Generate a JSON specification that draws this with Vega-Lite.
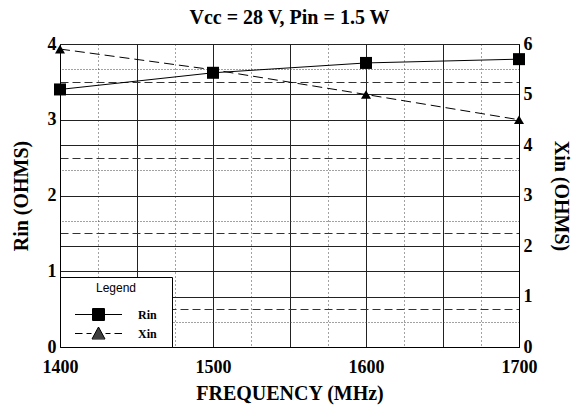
{
  "$schema": "https://vega.github.io/schema/vega-lite/v6.json",
  "width": 459,
  "height": 303,
  "autosize": {"type": "none"},
  "padding": {"left": 60, "top": 44, "right": 54, "bottom": 63},
  "background": "white",
  "title": {"text": "Vcc = 28 V, Pin = 1.5 W", "font": "Liberation Serif", "fontSize": 20, "fontWeight": "bold", "color": "black", "anchor": "middle", "offset": 7},
  "data": {"values": [
    {"freq": 1400, "series": "Rin", "ohms": 3.40},
    {"freq": 1500, "series": "Rin", "ohms": 3.62},
    {"freq": 1600, "series": "Rin", "ohms": 3.75},
    {"freq": 1700, "series": "Rin", "ohms": 3.80},
    {"freq": 1400, "series": "Xin", "ohms": 5.90},
    {"freq": 1500, "series": "Xin", "ohms": 5.49},
    {"freq": 1600, "series": "Xin", "ohms": 5.00},
    {"freq": 1700, "series": "Xin", "ohms": 4.50}
  ]},
  "config": {
    "view": {"stroke": null},
    "axis": {
      "labelFont": "Liberation Serif", "labelFontSize": 18, "labelFontWeight": "bold", "labelColor": "black",
      "titleFont": "Liberation Serif", "titleFontSize": 20, "titleFontWeight": "bold", "titleColor": "black",
      "domainColor": "black", "tickSize": 0, "gridOpacity": 1, "gridWidth": 1
    }
  },
  "layer": [
    {
      "transform": [{"filter": "datum.series == 'Rin'"}],
      "mark": {"type": "point", "opacity": 0},
      "encoding": {
        "x": {"field": "freq", "type": "quantitative", "scale": {"domain": [1400, 1700], "nice": false},
          "axis": {"orient": "bottom", "values": [1425, 1475, 1525, 1575, 1625, 1675], "grid": true, "gridDash": [1, 3], "gridColor": "#444", "labels": false, "ticks": false, "domain": false, "title": null}},
        "y": {"field": "ohms", "type": "quantitative", "scale": {"domain": [0, 4], "nice": false, "zero": false},
          "axis": {"orient": "left", "values": [0.5, 1.5, 2.5, 3.5], "grid": true, "gridDash": [8, 4], "gridColor": "#333", "labels": false, "ticks": false, "domain": false, "title": null}}
      }
    },
    {
      "transform": [{"filter": "datum.series == 'Xin'"}],
      "mark": {"type": "point", "opacity": 0},
      "encoding": {
        "x": {"field": "freq", "type": "quantitative", "axis": null},
        "y": {"field": "ohms", "type": "quantitative", "scale": {"domain": [0, 6], "nice": false, "zero": false},
          "axis": {"orient": "right", "values": [0.5, 1.5, 2.5, 3.5, 4.5, 5.5], "grid": true, "gridDash": [1, 2], "gridColor": "#444", "labels": false, "ticks": false, "domain": false, "title": null}}
      }
    },
    {
      "transform": [{"filter": "datum.series == 'Xin'"}],
      "mark": {"type": "line", "color": "black", "strokeWidth": 1, "strokeDash": [10, 5]},
      "encoding": {
        "x": {"field": "freq", "type": "quantitative", "axis": null},
        "y": {"field": "ohms", "type": "quantitative", "scale": {"domain": [0, 6], "nice": false, "zero": false},
          "axis": {"orient": "right", "values": [0, 1, 2, 3, 4, 5, 6], "format": "d", "grid": true, "gridColor": "#222", "ticks": false, "labelPadding": 4, "title": "Xin (OHMS)", "titlePadding": 18}}
      }
    },
    {
      "transform": [{"filter": "datum.series == 'Xin' && datum.freq != 1500"}],
      "mark": {"type": "point", "shape": "triangle-up", "filled": true, "color": "black", "opacity": 1, "size": 100},
      "encoding": {
        "x": {"field": "freq", "type": "quantitative", "axis": null},
        "y": {"field": "ohms", "type": "quantitative", "scale": {"domain": [0, 6], "nice": false, "zero": false}, "axis": null}
      }
    },
    {
      "transform": [{"filter": "datum.series == 'Rin'"}],
      "mark": {"type": "line", "color": "black", "strokeWidth": 1},
      "encoding": {
        "x": {"field": "freq", "type": "quantitative",
          "axis": {"orient": "bottom", "values": [1400, 1450, 1500, 1550, 1600, 1650, 1700], "format": "d", "labelExpr": "datum.value % 100 == 0 ? datum.label : ''", "labelOverlap": false, "labelFlush": false, "labelBound": false, "grid": true, "gridColor": "#222", "ticks": false, "labelPadding": 11, "title": "FREQUENCY (MHz)", "titlePadding": 7}},
        "y": {"field": "ohms", "type": "quantitative", "scale": {"domain": [0, 4], "nice": false, "zero": false},
          "axis": {"orient": "left", "values": [0, 1, 2, 3, 4], "format": "d", "grid": true, "gridColor": "#222", "ticks": false, "labelPadding": 4, "title": "Rin (OHMS)", "titlePadding": 16}}
      }
    },
    {
      "transform": [{"filter": "datum.series == 'Rin'"}],
      "mark": {"type": "point", "shape": "square", "filled": true, "color": "black", "opacity": 1, "size": 144},
      "encoding": {
        "x": {"field": "freq", "type": "quantitative", "axis": null},
        "y": {"field": "ohms", "type": "quantitative", "scale": {"domain": [0, 4], "nice": false, "zero": false}, "axis": null}
      }
    },
    {
      "mark": {"type": "point", "opacity": 0, "filled": false, "color": "black"},
      "encoding": {
        "x": {"field": "freq", "type": "quantitative", "axis": null},
        "y": {"field": "ohms", "type": "quantitative", "scale": {"domain": [0, 6], "nice": false, "zero": false}, "axis": null},
        "shape": {"field": "series", "type": "nominal",
          "scale": {"domain": ["Rin", "Xin"], "range": [
            "M-2.35,0H2.35M-0.6,-0.6H0.6V0.6H-0.6ZM-0.6,-0.5H0.6M-0.6,-0.4H0.6M-0.6,-0.3H0.6M-0.6,-0.2H0.6M-0.6,-0.1H0.6M-0.6,0.1H0.6M-0.6,0.2H0.6M-0.6,0.3H0.6M-0.6,0.4H0.6M-0.6,0.5H0.6",
            "M-2.35,0H-1.6M-1.2,0H-0.7M0.7,0H1.2M1.6,0H2.35M-0.65,0.55L0,-0.65L0.65,0.55ZM-0.05,-0.55H0.05M-0.11,-0.45H0.11M-0.16,-0.35H0.16M-0.22,-0.25H0.22M-0.27,-0.15H0.27M-0.33,-0.05H0.33M-0.38,0.05H0.38M-0.43,0.15H0.43M-0.49,0.25H0.49M-0.54,0.35H0.54M-0.6,0.45H0.6"]},
          "legend": {"orient": "bottom-left", "offset": 0, "title": "Legend", "titleFont": "Liberation Sans", "titleFontSize": 12, "titleFontWeight": "normal", "titleColor": "black", "titleAnchor": "middle", "titlePadding": 9,
            "labelFont": "Liberation Serif", "labelFontSize": 12, "labelFontWeight": "bold", "labelColor": "black",
            "labelExpr": "datum.label + '\u2800'",
            "symbolSize": 400, "symbolOffset": 22, "labelOffset": 29, "rowPadding": 0, "padding": 6,
            "strokeColor": "black", "fillColor": "white", "symbolStrokeColor": "black", "symbolStrokeWidth": 1, "symbolOpacity": 1}}
      }
    }
  ],
  "resolve": {"scale": {"y": "independent", "shape": "shared"}, "axis": {"y": "independent", "x": "independent"}}
}
